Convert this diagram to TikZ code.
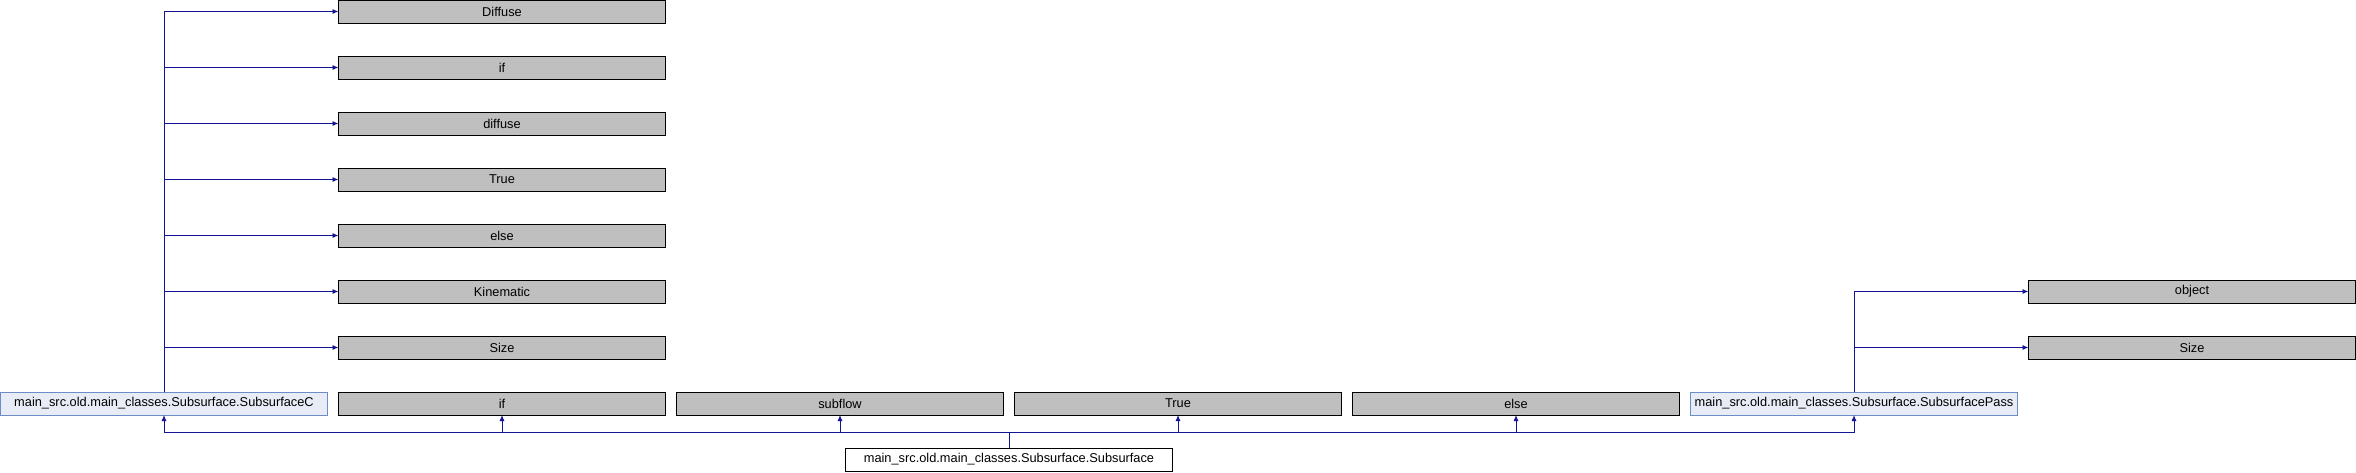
\documentclass[tikz,border=0pt]{standalone}
\usepackage{fontspec}
\setmainfont{Liberation Sans}
\usepackage{tikz}
\usetikzlibrary{positioning,arrows.meta}
\usepackage{xcolor}
\definecolor{extgray}{RGB}{191,191,191}
\definecolor{clsfill}{RGB}{232,236,246}
\definecolor{clsdraw}{RGB}{110,140,200}
\definecolor{edgeblue}{RGB}{20,20,150}

\begin{document}
\begin{tikzpicture}[
    x=1pt, y=-1pt,
    node distance=33pt and 11pt,
    box/.style={
        rectangle, draw, minimum height=23pt, minimum width=327pt,
        inner sep=0pt, outer sep=0pt, align=center, line width=1pt,
        font=\fontsize{12.8}{15}\selectfont
    },
    extbox/.style={box, fill=extgray},
    clsbox/.style={box, fill=clsfill, draw=clsdraw},
    mainbox/.style={box, fill=white},
    arrow/.style={-{Latex[length=6pt,width=5pt]}, edgeblue, line width=0.9pt}
]
\useasboundingbox (0,0) rectangle (2356,472);
% bottom row
\node[clsbox] (subc) at (164,403.5) {main\_src.old.main\_classes.Subsurface.SubsurfaceC};
\node[extbox, right=of subc] (if2) {if};
\node[extbox, right=of if2] (subflow) {subflow};
\node[extbox, right=of subflow] (true2) {True};
\node[extbox, right=of true2] (else2) {else};
\node[clsbox, right=of else2] (subpass) {main\_src.old.main\_classes.Subsurface.SubsurfacePass};
% bases of SubsurfaceC
\node[extbox, above=of if2] (size1) {Size};
\node[extbox, above=of size1] (kinematic) {Kinematic};
\node[extbox, above=of kinematic] (else1) {else};
\node[extbox, above=of else1] (true1) {True};
\node[extbox, above=of true1] (diffuse2) {diffuse};
\node[extbox, above=of diffuse2] (if1) {if};
\node[extbox, above=of if1] (diffuse1) {Diffuse};
% bases of SubsurfacePass
\node[extbox, above right=33pt and 11pt of subpass] (size2) {Size};
\node[extbox, above=of size2] (object) {object};
\node[mainbox] (sub) at (1009,459.5) {main\_src.old.main\_classes.Subsurface.Subsurface};
\coordinate (bus) at (1009,432);
\foreach \t in {diffuse1,if1,diffuse2,true1,else1,kinematic,size1}
    \draw[arrow] (subc.north) |- (\t.west);
\foreach \t in {object,size2}
    \draw[arrow] (subpass.north) |- (\t.west);
\foreach \t in {subc,if2,subflow,true2,else2,subpass}
    \draw[arrow] (sub.north) -- (bus) -| (\t.south);
\end{tikzpicture}
\end{document}
